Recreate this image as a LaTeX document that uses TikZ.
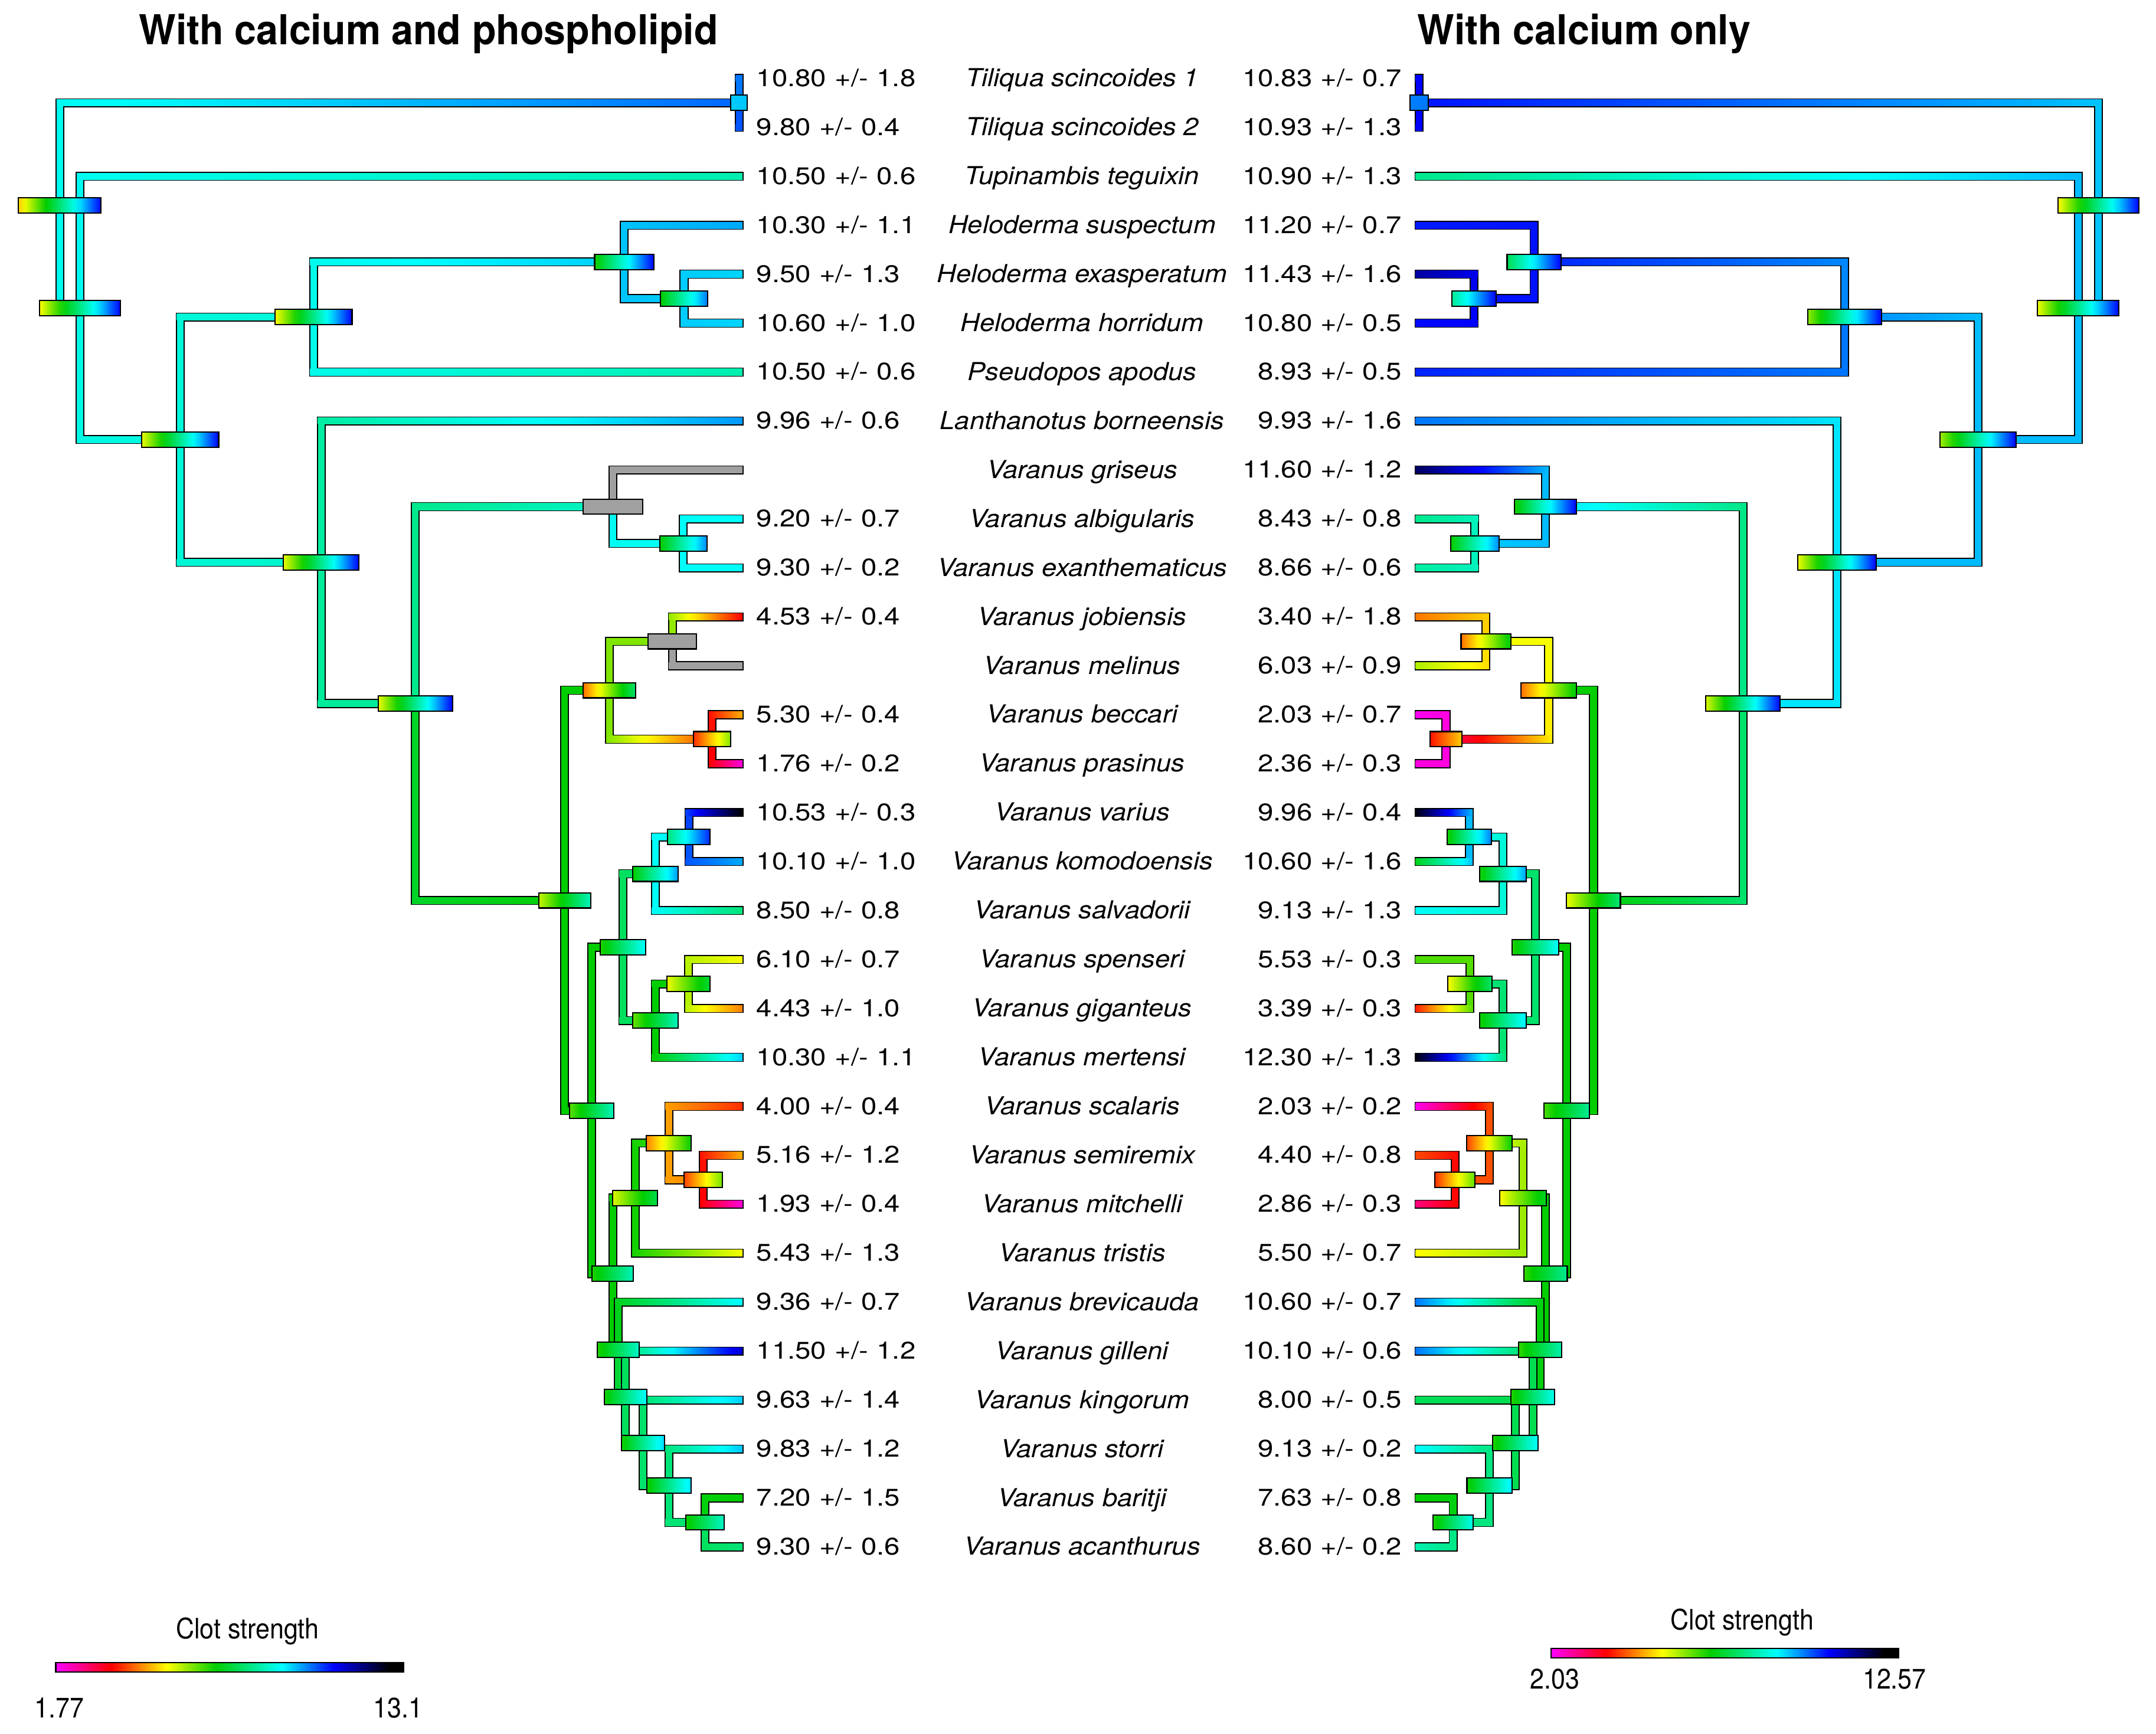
\documentclass[tikz,border=0pt]{standalone}
\usepackage{fontspec}
\setmainfont{TeX Gyre Heros}
\newfontfamily\valfont[FakeStretch=1.16,WordSpace=1.1]{TeX Gyre Heros}
\newfontfamily\taxfont[FakeStretch=1.08]{TeX Gyre Heros}
\newfontfamily\headfont[FakeStretch=0.95]{TeX Gyre Heros}
\newfontfamily\legfont[FakeStretch=0.9]{TeX Gyre Heros}

\definecolor{cm0}{RGB}{255,0,255}
\definecolor{cm1}{RGB}{255,0,0}
\definecolor{cm2}{RGB}{255,255,0}
\definecolor{cm3}{RGB}{0,205,0}
\definecolor{cm4}{RGB}{0,255,255}
\definecolor{cm5}{RGB}{0,0,255}
\definecolor{cm6}{RGB}{0,0,0}
\definecolor{nodata}{RGB}{160,160,160}
\pgfdeclarehorizontalshading{clotscale}{100bp}{color(0bp)=(cm0); color(25bp)=(cm0); color(33bp)=(cm1); color(41bp)=(cm2); color(48bp)=(cm3); color(57.5bp)=(cm4); color(65bp)=(cm5); color(73bp)=(cm6); color(100bp)=(cm6)}

\tikzset{tube/.style={draw=black, line width=1.7pt, line join=miter}}
\tikzset{nodebox/.style={rectangle, draw=black, line width=0.9pt, inner sep=0pt, outer sep=0pt, minimum height=11.1pt, shade}}
\tikzset{legbar/.style={rectangle, draw=black, line width=0.9pt, inner sep=0pt, minimum width=252.9pt, minimum height=6.8pt, shade, shading=clotscale}}
\tikzset{lval/.style={font=\valfont\fontsize{17.5}{20}\selectfont, inner sep=0pt, anchor=base west}}
\tikzset{rval/.style={font=\valfont\fontsize{17.5}{20}\selectfont, inner sep=0pt, anchor=base east}}
\tikzset{taxon/.style={font=\taxfont\itshape\fontsize{18}{21}\selectfont, inner sep=0pt, anchor=base}}
\tikzset{heading/.style={font=\headfont\bfseries\fontsize{30}{34}\selectfont, inner sep=0pt, anchor=base}}
\tikzset{legtext/.style={font=\legfont\fontsize{20.5}{24}\selectfont, inner sep=0pt, anchor=base}}

% colour of a point of the clot strength scale (0..1, below 0 = no data)
\newcommand\clotmix[5]{%
  \pgfmathsetmacro\clott{min(100,max(0,100*(\clotv-#4)/(#5-#4)))}%
  \colorlet{#1}{#3!\clott!#2}}
\newcommand\clotcolor[2]{%
  \pgfmathsetmacro\clotv{#2}%
  \ifdim\clotv pt<0pt \colorlet{#1}{nodata}%
  \else\ifdim\clotv pt<0.16pt \clotmix{#1}{cm0}{cm1}{0}{0.16}%
  \else\ifdim\clotv pt<0.32pt \clotmix{#1}{cm1}{cm2}{0.16}{0.32}%
  \else\ifdim\clotv pt<0.46pt \clotmix{#1}{cm2}{cm3}{0.32}{0.46}%
  \else\ifdim\clotv pt<0.65pt \clotmix{#1}{cm3}{cm4}{0.46}{0.65}%
  \else\ifdim\clotv pt<0.8pt \clotmix{#1}{cm4}{cm5}{0.65}{0.8}%
  \else\clotmix{#1}{cm5}{cm6}{0.8}{0.96}%
  \fi\fi\fi\fi\fi\fi}
\newcounter{clotshade}
\newcount\shk
\newcommand\mkshade[2]{%
  \stepcounter{clotshade}%
  \edef\shname{clot\arabic{clotshade}}%
  \def\shspec{}\shk=0
  \loop
    \pgfmathsetmacro\shv{#1+((#2)-(#1))*\the\shk/12}%
    \pgfmathsetmacro\shpos{25+50*\the\shk/12}%
    \clotcolor{cs\the\shk}{\shv}%
    \edef\shspec{\shspec color(\shpos bp)=(cs\the\shk); }%
  \ifnum\shk<12 \advance\shk by 1 \repeat
  \edef\shspec{color(0bp)=(cs0); \shspec color(100bp)=(cs12)}%
  \edef\shdecl{\noexpand\pgfdeclarehorizontalshading{\shname}{100bp}{\shspec}}%
  \shdecl}

\newdimen\brx \newdimen\bry
\def\hw{2.4pt}
\newcommand\getxy[3]{%
  \pgfextractx{\brx}{\pgfpointanchor{#1}{center}}\edef#2{\the\brx}%
  \pgfextracty{\bry}{\pgfpointanchor{#1}{center}}\edef#3{\the\bry}}
\newcommand\tnode[3]{\coordinate (l#1) at (#2,#3); \coordinate (r#1) at ({1569.6-#2},#3);}
\newcommand\branch[4]{%
  \getxy{#1}\bpx\bpy \getxy{#2}\bcx\bcy
  \ifdim\bcx>\bpx \mkshade{#3}{#4}\edef\bex{\bpx-\hw}\else\mkshade{#4}{#3}\edef\bex{\bpx+\hw}\fi
  \clotcolor{brc}{#3}%
  \draw[tube] ({\bpx-\hw},\bpy) rectangle ({\bpx+\hw},\bcy) ({\bex},{\bcy-\hw}) rectangle (\bcx,{\bcy+\hw});
  \fill[brc] ({\bpx-\hw},\bpy) rectangle ({\bpx+\hw},\bcy);
  \shade[shading=\shname] ({\bex},{\bcy-\hw}) rectangle (\bcx,{\bcy+\hw});}
\newcommand\nbox[4]{%
  \mkshade{#3}{#4}%
  \node[nodebox, minimum width=#2pt-0.9pt, shading=\shname] (b#1) at (#1) {};}

\begin{document}
\begin{tikzpicture}[x=1pt, y=-1pt]
\useasboundingbox (0,0) rectangle (1568,1261);

\node[heading] (hl) at (311.7,32.2) {With calcium and phospholipid};
\node[heading] (hr) at (1152,32.2) {With calcium only};

\foreach \lmean/\lsd/\taxon/\rmean/\rsd [count=\i from 0] in {%
10.80/1.8/Tiliqua scincoides 1/10.83/0.7,%
9.80/0.4/Tiliqua scincoides 2/10.93/1.3,%
10.50/0.6/Tupinambis teguixin/10.90/1.3,%
10.30/1.1/Heloderma suspectum/11.20/0.7,%
9.50/1.3/Heloderma exasperatum/11.43/1.6,%
10.60/1.0/Heloderma horridum/10.80/0.5,%
10.50/0.6/Pseudopos apodus/8.93/0.5,%
9.96/0.6/Lanthanotus borneensis/9.93/1.6,%
//Varanus griseus/11.60/1.2,%
9.20/0.7/Varanus albigularis/8.43/0.8,%
9.30/0.2/Varanus exanthematicus/8.66/0.6,%
4.53/0.4/Varanus jobiensis/3.40/1.8,%
//Varanus melinus/6.03/0.9,%
5.30/0.4/Varanus beccari/2.03/0.7,%
1.76/0.2/Varanus prasinus/2.36/0.3,%
10.53/0.3/Varanus varius/9.96/0.4,%
10.10/1.0/Varanus komodoensis/10.60/1.6,%
8.50/0.8/Varanus salvadorii/9.13/1.3,%
6.10/0.7/Varanus spenseri/5.53/0.3,%
4.43/1.0/Varanus giganteus/3.39/0.3,%
10.30/1.1/Varanus mertensi/12.30/1.3,%
4.00/0.4/Varanus scalaris/2.03/0.2,%
5.16/1.2/Varanus semiremix/4.40/0.8,%
1.93/0.4/Varanus mitchelli/2.86/0.3,%
5.43/1.3/Varanus tristis/5.50/0.7,%
9.36/0.7/Varanus brevicauda/10.60/0.7,%
11.50/1.2/Varanus gilleni/10.10/0.6,%
9.63/1.4/Varanus kingorum/8.00/0.5,%
9.83/1.2/Varanus storri/9.13/0.2,%
7.20/1.5/Varanus baritji/7.63/0.8,%
9.30/0.6/Varanus acanthurus/8.60/0.2}{
  \coordinate (lt\i) at (540,{57+35.6*\i});
  \coordinate (rt\i) at (1029.6,{57+35.6*\i});
  \node[lval] (lv\i) at (550,{62.8+35.6*\i}) {\ifx\lmean\empty\else\lmean\ +/- \lsd\fi};
  \node[taxon] (tx\i) at (787,{63+35.6*\i}) {\taxon};
  \node[rval] (rv\i) at (1019.5,{62.8+35.6*\i}) {\rmean\ +/- \rsd};
}

\tnode{root}{43.5}{149.38}
\tnode{sq}{58.2}{223.97}
\tnode{ang}{131}{319.74}
\tnode{hp}{228}{230.55}
\tnode{hel}{454}{190.5}
\tnode{helb}{497.5}{217.2}
\tnode{lanv}{233.6}{408.93}
\tnode{var}{302}{511.67}
\tnode{afr}{445.7}{368.5}
\tnode{afrb}{497}{395.2}
\tnode{ind}{410.7}{654.83}
\tnode{png}{443.3}{502}
\tnode{jm}{489}{466.4}
\tnode{bp}{518}{537.6}
\tnode{aus}{430.3}{807.66}
\tnode{ka}{452.9}{688.9}
\tnode{kb}{476.5}{635.5}
\tnode{kc}{501}{608.8}
\tnode{kd}{476.5}{742.3}
\tnode{ke}{500.7}{715.6}
\tnode{odn}{445.6}{926.42}
\tnode{na}{462}{871.35}
\tnode{nb}{486.4}{831.3}
\tnode{nc}{511.4}{858}
\tnode{oa}{449.6}{981.49}
\tnode{ob}{454.8}{1015.98}
\tnode{oc}{467.7}{1049.35}
\tnode{od}{486.4}{1080.5}
\tnode{oe}{512.8}{1107.2}
\tnode{til}{537.5}{74.8}

\branch{lroot}{ltil}{0.64}{0.74}
\branch{lroot}{lsq}{0.64}{0.63}
\branch{ltil}{lt0}{0.73}{0.73}
\branch{ltil}{lt1}{0.75}{0.75}
\branch{lsq}{lt2}{0.64}{0.59}
\branch{lsq}{lang}{0.63}{0.625}
\branch{lang}{lhp}{0.62}{0.625}
\branch{lang}{llanv}{0.62}{0.61}
\branch{lhp}{lhel}{0.635}{0.68}
\branch{lhp}{lt6}{0.635}{0.59}
\branch{lhel}{lt3}{0.685}{0.70}
\branch{lhel}{lhelb}{0.685}{0.68}
\branch{lhelb}{lt4}{0.68}{0.675}
\branch{lhelb}{lt5}{0.68}{0.675}
\branch{llanv}{lt7}{0.58}{0.71}
\branch{llanv}{lvar}{0.575}{0.575}
\branch{lvar}{lafr}{0.565}{0.61}
\branch{lvar}{lind}{0.49}{0.465}
\branch{lafr}{lt8}{-1}{-1}
\branch{lafr}{lafrb}{0.64}{0.645}
\branch{lafrb}{lt9}{0.645}{0.65}
\branch{lafrb}{lt10}{0.645}{0.645}
\branch{lind}{lpng}{0.46}{0.46}
\branch{lind}{laus}{0.46}{0.46}
\branch{lpng}{ljm}{0.39}{0.39}
\branch{lpng}{lbp}{0.39}{0.20}
\branch{ljm}{lt11}{0.38}{0.16}
\branch{ljm}{lt12}{-1}{-1}
\branch{lbp}{lt13}{0.17}{0.27}
\branch{lbp}{lt14}{0.16}{0.02}
\branch{laus}{lka}{0.46}{0.46}
\branch{laus}{lodn}{0.46}{0.46}
\branch{lka}{lkb}{0.53}{0.54}
\branch{lka}{lkd}{0.53}{0.53}
\branch{lkb}{lkc}{0.645}{0.65}
\branch{lkb}{lt17}{0.645}{0.55}
\branch{lkc}{lt15}{0.76}{0.96}
\branch{lkc}{lt16}{0.75}{0.70}
\branch{lkd}{lke}{0.46}{0.45}
\branch{lkd}{lt20}{0.46}{0.68}
\branch{lke}{lt18}{0.36}{0.325}
\branch{lke}{lt19}{0.36}{0.24}
\branch{lodn}{lna}{0.46}{0.46}
\branch{lodn}{loa}{0.46}{0.47}
\branch{lna}{lnb}{0.45}{0.42}
\branch{lna}{lt24}{0.45}{0.325}
\branch{lnb}{lt21}{0.26}{0.19}
\branch{lnb}{lnc}{0.26}{0.24}
\branch{lnc}{lt22}{0.17}{0.27}
\branch{lnc}{lt23}{0.16}{0.02}
\branch{loa}{lt25}{0.48}{0.65}
\branch{loa}{lob}{0.50}{0.52}
\branch{lob}{lt26}{0.53}{0.83}
\branch{lob}{loc}{0.53}{0.54}
\branch{loc}{lt27}{0.54}{0.68}
\branch{loc}{lod}{0.54}{0.55}
\branch{lod}{lt28}{0.55}{0.685}
\branch{lod}{loe}{0.55}{0.54}
\branch{loe}{lt29}{0.47}{0.46}
\branch{loe}{lt30}{0.53}{0.55}

\branch{rroot}{rtil}{0.685}{0.79}
\branch{rroot}{rsq}{0.685}{0.685}
\branch{rtil}{rt0}{0.80}{0.80}
\branch{rtil}{rt1}{0.80}{0.80}
\branch{rsq}{rt2}{0.69}{0.565}
\branch{rsq}{rang}{0.69}{0.69}
\branch{rang}{rhp}{0.69}{0.72}
\branch{rang}{rlanv}{0.69}{0.69}
\branch{rhp}{rhel}{0.72}{0.78}
\branch{rhp}{rt6}{0.73}{0.78}
\branch{rhel}{rt3}{0.79}{0.785}
\branch{rhel}{rhelb}{0.79}{0.79}
\branch{rhelb}{rt4}{0.81}{0.86}
\branch{rhelb}{rt5}{0.80}{0.795}
\branch{rlanv}{rt7}{0.665}{0.73}
\branch{rlanv}{rvar}{0.665}{0.665}
\branch{rvar}{rafr}{0.56}{0.675}
\branch{rvar}{rind}{0.54}{0.465}
\branch{rafr}{rt8}{0.69}{0.90}
\branch{rafr}{rafrb}{0.69}{0.68}
\branch{rafrb}{rt9}{0.60}{0.565}
\branch{rafrb}{rt10}{0.60}{0.58}
\branch{rind}{rpng}{0.46}{0.45}
\branch{rind}{raus}{0.46}{0.46}
\branch{rpng}{rjm}{0.325}{0.325}
\branch{rpng}{rbp}{0.31}{0.09}
\branch{rjm}{rt11}{0.29}{0.235}
\branch{rjm}{rt12}{0.30}{0.365}
\branch{rbp}{rt13}{0.02}{0.01}
\branch{rbp}{rt14}{0.02}{0.02}
\branch{raus}{rka}{0.46}{0.46}
\branch{raus}{rodn}{0.46}{0.46}
\branch{rka}{rkb}{0.54}{0.54}
\branch{rka}{rkd}{0.54}{0.54}
\branch{rkb}{rkc}{0.62}{0.63}
\branch{rkb}{rt17}{0.62}{0.645}
\branch{rkc}{rt15}{0.69}{0.95}
\branch{rkc}{rt16}{0.69}{0.48}
\branch{rkd}{rke}{0.545}{0.545}
\branch{rkd}{rt20}{0.545}{0.95}
\branch{rke}{rt18}{0.415}{0.42}
\branch{rke}{rt19}{0.415}{0.18}
\branch{rodn}{rna}{0.46}{0.46}
\branch{rodn}{roa}{0.46}{0.47}
\branch{rna}{rnb}{0.37}{0.335}
\branch{rna}{rt24}{0.375}{0.32}
\branch{rnb}{rt21}{0.21}{0.01}
\branch{rnb}{rnc}{0.21}{0.205}
\branch{rnc}{rt22}{0.165}{0.205}
\branch{rnc}{rt23}{0.165}{0.08}
\branch{roa}{rt25}{0.47}{0.73}
\branch{roa}{rob}{0.47}{0.50}
\branch{rob}{rt26}{0.52}{0.73}
\branch{rob}{roc}{0.52}{0.52}
\branch{roc}{rt27}{0.52}{0.525}
\branch{roc}{rod}{0.52}{0.53}
\branch{rod}{rt28}{0.555}{0.65}
\branch{rod}{roe}{0.555}{0.55}
\branch{roe}{rt29}{0.47}{0.46}
\branch{roe}{rt30}{0.56}{0.59}

\nbox{lroot}{61}{0.29}{0.80}
\nbox{lsq}{60}{0.32}{0.80}
\nbox{lang}{57}{0.33}{0.80}
\nbox{lhp}{57}{0.32}{0.80}
\nbox{llanv}{56}{0.33}{0.80}
\nbox{lvar}{55}{0.33}{0.80}
\nbox{lhel}{44}{0.45}{0.80}
\nbox{lhelb}{35}{0.46}{0.73}
\nbox{lafr}{44}{-1}{-1}
\nbox{lafrb}{35}{0.46}{0.72}
\nbox{lind}{38.6}{0.35}{0.60}
\nbox{lpng}{39}{0.23}{0.54}
\nbox{ljm}{36}{-1}{-1}
\nbox{lbp}{28}{0.19}{0.39}
\nbox{laus}{33}{0.41}{0.60}
\nbox{lka}{34}{0.44}{0.65}
\nbox{lkb}{34}{0.46}{0.71}
\nbox{lkc}{32}{0.55}{0.78}
\nbox{lkd}{34}{0.40}{0.60}
\nbox{lke}{32}{0.33}{0.50}
\nbox{lodn}{31}{0.44}{0.60}
\nbox{lna}{33.5}{0.34}{0.52}
\nbox{lnb}{33.6}{0.24}{0.46}
\nbox{lnc}{29}{0.20}{0.40}
\nbox{loa}{31.4}{0.44}{0.61}
\nbox{lob}{31.8}{0.45}{0.65}
\nbox{loc}{32.5}{0.45}{0.68}
\nbox{lod}{33}{0.45}{0.67}
\nbox{loe}{29}{0.45}{0.61}
\nbox{ltil}{13}{0.68}{0.685}

\nbox{rroot}{60}{0.32}{0.80}
\nbox{rsq}{60}{0.33}{0.80}
\nbox{rang}{56.4}{0.37}{0.80}
\nbox{rhp}{54.6}{0.38}{0.80}
\nbox{rlanv}{58}{0.33}{0.80}
\nbox{rvar}{55}{0.34}{0.80}
\nbox{rhel}{40}{0.52}{0.80}
\nbox{rhelb}{33}{0.57}{0.80}
\nbox{rafr}{46}{0.45}{0.80}
\nbox{rafrb}{36}{0.46}{0.72}
\nbox{rind}{40}{0.33}{0.55}
\nbox{rpng}{41}{0.23}{0.47}
\nbox{rjm}{37}{0.23}{0.47}
\nbox{rbp}{24}{0.17}{0.29}
\nbox{raus}{34}{0.42}{0.57}
\nbox{rka}{35}{0.44}{0.65}
\nbox{rkb}{35}{0.45}{0.71}
\nbox{rkc}{33}{0.45}{0.73}
\nbox{rkd}{35}{0.45}{0.66}
\nbox{rke}{33}{0.32}{0.54}
\nbox{rodn}{32.5}{0.43}{0.57}
\nbox{rna}{34.6}{0.32}{0.49}
\nbox{rnb}{34}{0.20}{0.46}
\nbox{rnc}{30}{0.19}{0.41}
\nbox{roa}{32.4}{0.43}{0.59}
\nbox{rob}{32.6}{0.44}{0.64}
\nbox{roc}{34}{0.44}{0.65}
\nbox{rod}{33.6}{0.45}{0.66}
\nbox{roe}{30.4}{0.44}{0.64}
\nbox{rtil}{14}{0.725}{0.73}

\node[legtext] (lcap) at (180,1191.8) {Clot strength};
\node[legbar] (lbar) at (167,1212.55) {};
\node[legtext] (lmin) at (43.2,1249.1) {1.77};
\node[legtext] (lmax) at (289.5,1249.1) {13.1};
\node[legtext] (rcap) at (1267,1185.4) {Clot strength};
\node[legbar] (rbar) at (1254.3,1202.35) {};
\node[legtext] (rmin) at (1130.7,1228.4) {2.03};
\node[legtext] (rmax) at (1377.8,1228.4) {12.57};
\end{tikzpicture}
\end{document}
